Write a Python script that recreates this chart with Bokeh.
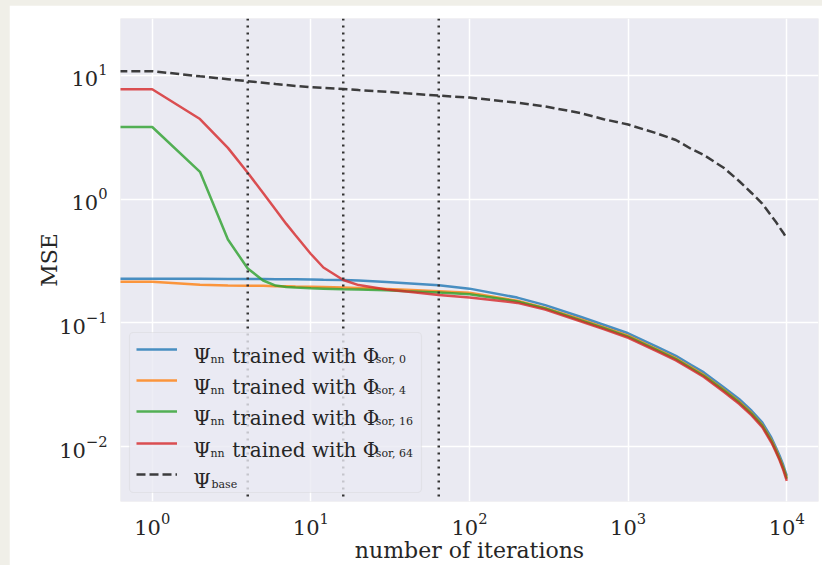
import numpy as np
from bokeh.plotting import figure
from bokeh.models import (Range1d, Span, Legend, LegendItem, Label, BoxAnnotation,
                          GlobalInlineStyleSheet)
from bokeh.embed import file_html
from bokeh.resources import INLINE

# ---------------- data ----------------
iterations = [0, 1, 2, 3, 4, 5, 6, 7, 8, 10, 12, 16, 20, 30, 40, 64, 100, 200, 300, 500, 700,
              1000, 1500, 2000, 2500, 3000, 4000, 5000, 6000, 7000, 8000, 8500, 9000, 9500, 10000]

mse_sor0 = [0.227, 0.227, 0.227, 0.226, 0.226, 0.226, 0.225, 0.225, 0.225, 0.224, 0.223, 0.222,
            0.220, 0.214, 0.209, 0.201, 0.189, 0.160, 0.139, 0.112, 0.0966, 0.0824, 0.0646,
            0.0542, 0.0457, 0.0398, 0.0302, 0.0243, 0.0195, 0.0157, 0.0118, 0.0100, 0.0085,
            0.0071, 0.0058]
mse_sor4 = [0.216, 0.215, 0.203, 0.200, 0.199, 0.199, 0.198, 0.198, 0.197, 0.196, 0.195, 0.193,
            0.191, 0.188, 0.185, 0.180, 0.175, 0.151, 0.132, 0.107, 0.0922, 0.0788, 0.0617,
            0.0518, 0.0437, 0.0380, 0.0289, 0.0232, 0.0187, 0.0150, 0.0113, 0.0096, 0.0081,
            0.0068, 0.0056]
mse_sor16 = [3.82, 3.82, 1.66, 0.471, 0.275, 0.220, 0.200, 0.195, 0.193, 0.190, 0.189, 0.187,
             0.186, 0.183, 0.180, 0.176, 0.170, 0.149, 0.131, 0.105, 0.0908, 0.0775, 0.0607,
             0.0510, 0.0430, 0.0374, 0.0285, 0.0228, 0.0184, 0.0148, 0.0111, 0.0094, 0.0080,
             0.0067, 0.0055]
mse_sor64 = [7.71, 7.71, 4.43, 2.59, 1.63, 1.12, 0.82, 0.63, 0.51, 0.36, 0.28, 0.222,
             0.202, 0.186, 0.179, 0.168, 0.160, 0.145, 0.128, 0.103, 0.0889, 0.0758, 0.0594,
             0.0498, 0.0420, 0.0365, 0.0278, 0.0222, 0.0179, 0.0144, 0.0108, 0.0092, 0.0078,
             0.0065, 0.0053]
mse_base = [10.8, 10.8, 9.8, 9.3, 8.95, 8.7, 8.5, 8.35, 8.2, 8.0, 7.9, 7.75,
            7.6, 7.35, 7.15, 6.85, 6.6, 6.0, 5.6, 4.95, 4.42, 4.0, 3.41,
            3.0, 2.54, 2.27, 1.79, 1.40, 1.12, 0.92, 0.73, 0.66, 0.59,
            0.535, 0.48]

reference_iters = [4, 16, 64]
series_subscripts = ["sor, 0", "sor, 4", "sor, 16", "sor, 64"]
series_colors = ["#1f77b4", "#ff7f0e", "#2ca02c", "#d62728"]

# ---------------- figure ----------------
FONT = "DejaVu Serif"
TXT = "#262626"

p = figure(width=813, height=560, x_axis_type="log", y_axis_type="log",
           x_range=Range1d(10 ** -0.2, 10 ** 4.2),
           y_range=Range1d(10 ** -2.443, 10 ** 1.4586),
           output_backend="svg", toolbar_location=None,
           min_border_left=111, min_border_right=4, min_border_top=13, min_border_bottom=62,
           background_fill_color="#EAEAF2", border_fill_color="white",
           outline_line_color=None)

p.stylesheets = [GlobalInlineStyleSheet(
    css="html{background:#F0EFE8;} body{margin:0;padding:5px 0 0 9px;background:#F0EFE8;}")]

p.grid.grid_line_color = "white"
p.grid.grid_line_width = 1.5

for ax in (p.xaxis[0], p.yaxis[0]):
    ax.axis_line_color = None
    ax.major_tick_line_color = None
    ax.minor_tick_line_color = None
    ax.major_tick_out = 0
    ax.major_tick_in = 0
    ax.minor_tick_out = 0
    ax.minor_tick_in = 0
    ax.major_label_text_font = FONT
    ax.major_label_text_font_size = "21px"
    ax.major_label_text_color = TXT
    ax.axis_label_text_font = FONT
    ax.axis_label_text_font_size = "22px"
    ax.axis_label_text_font_style = "normal"
    ax.axis_label_text_color = TXT

p.xaxis.axis_label = "number of iterations"
p.yaxis.axis_label = "MSE"
p.xaxis.major_label_standoff = 11
p.yaxis.major_label_standoff = 13
p.xaxis.axis_label_standoff = 0
p.yaxis.axis_label_standoff = -6

# iteration 0 cannot sit on a log axis: clip it far to the left (like matplotlib)
x_plot = np.where(np.array(iterations, dtype=float) > 0, iterations, 1e-3)

for it in reference_iters:
    p.add_layout(Span(location=it, dimension="height", line_color="#333333",
                      line_width=2.5, line_dash="2 5"))

renderers = []
for ys, c in zip([mse_sor0, mse_sor4, mse_sor16, mse_sor64], series_colors):
    renderers.append(p.line(x_plot, ys, line_color=c, line_width=2.5, line_alpha=0.8))
renderers.append(p.line(x_plot, mse_base, line_color="#333333", line_width=2.5,
                        line_dash="9 4", line_alpha=0.95))

# ---------------- legend (frame-relative screen units) ----------------
FRAME_LEFT, FRAME_BOTTOM = 120, 503
p.add_layout(BoxAnnotation(left=129 - FRAME_LEFT, right=421 - FRAME_LEFT,
                           top=FRAME_BOTTOM - 334, bottom=FRAME_BOTTOM - 494,
                           left_units="screen", right_units="screen",
                           top_units="screen", bottom_units="screen",
                           fill_color="#EAEAF2", fill_alpha=0.8,
                           line_color="#CCCCCC", line_width=1.2, border_radius=4))

row_centers = [350.5, 381.5, 413.0, 444.5, 475.5]
for r, cy in zip(renderers, row_centers):
    p.add_layout(Legend(items=[LegendItem(label=" ", renderers=[r])],
                        location=(136 - FRAME_LEFT, FRAME_BOTTOM - cy - 10),
                        padding=0, spacing=0, margin=0,
                        glyph_width=41, glyph_height=20, label_height=20,
                        label_standoff=0, label_width=1, label_text_font_size="8px",
                        border_line_color=None, background_fill_alpha=0.0))


def add_text(px, py, text, size):
    p.add_layout(Label(x=px - FRAME_LEFT, y=FRAME_BOTTOM - py, x_units="screen", y_units="screen",
                       text=text, text_font=FONT, text_font_size=size, text_color=TXT,
                       text_baseline="alphabetic", text_align="left"))


for i, sub in enumerate(series_subscripts):
    cy = row_centers[i]
    add_text(192.7, cy + 6.5, "\u03a8", "20px")
    add_text(210.0, cy + 10.0, "nn", "11px")
    add_text(231.7, cy + 6.5, "trained with \u03a6", "20px")
    add_text(375.3, cy + 10.0, sub, "11px")

cy = row_centers[4]
add_text(192.7, cy + 6.5, "\u03a8", "20px")
add_text(211.0, cy + 10.0, "base", "11px")

open("out.html", "w").write(file_html(p, INLINE))
